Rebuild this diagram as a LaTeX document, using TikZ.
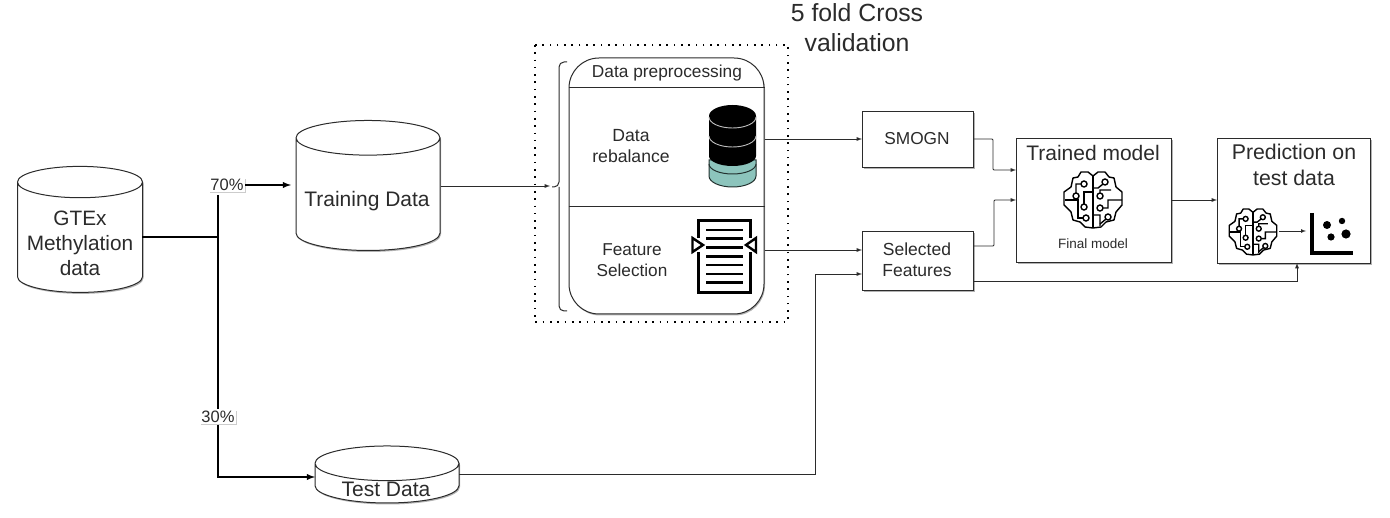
\documentclass[tikz,border=0pt]{standalone}
\usepackage{fontspec}
\setmainfont{Liberation Sans}
\usetikzlibrary{shapes.geometric,shadows}

\definecolor{inkcol}{HTML}{2B2B2B}
\definecolor{tealcol}{HTML}{8CC4BC}

\tikzset{
    softshadow/.style={drop shadow={shadow xshift=1pt,shadow yshift=-1.5pt,opacity=.3,fill=black}},
    databox/.style={draw=inkcol,line width=1pt,fill=white,shape=cylinder,shape border rotate=90,aspect=#1,softshadow},
    stepbox/.style={draw=inkcol,line width=1pt,fill=white,rectangle,anchor=north west,softshadow},
    txt/.style 2 args={align=center,text=inkcol,inner sep=0pt,font=\fontsize{#1}{#2}\selectfont},
    thin link/.style={draw=inkcol,line width=.9pt,-latex},
    thick link/.style={draw=black,line width=1.8pt},
    pct/.style={fill=white,text=inkcol,inner sep=1.5pt,font=\fontsize{16.5}{18}\selectfont,drop shadow={shadow xshift=1pt,shadow yshift=-1pt,opacity=.2,fill=black}},
    circuit/.style={line width=1.4pt,draw=black},
    brainicon/.pic={
        \draw[circuit,line join=round] (0,-24) -- (-5,-28) -- (-12,-28) -- (-15,-23) -- (-20,-22) -- (-22,-13) -- (-29,-8) -- (-29,5)
            -- (-22,12) -- (-20,20) -- (-13,22) -- (-8,27) -- (0,28) -- (8,27) -- (13,22) -- (21,20) -- (23,12) -- (29,5) -- (29,-8)
            -- (23,-13) -- (21,-22) -- (16,-23) -- (12,-28) -- (5,-28) -- cycle;
        \draw[circuit] (0,-24) -- (0,28);
        \draw[circuit] (-9,-16) circle (3) (-12,-16) -- (-17,-16) -- (-17,-7);
        \draw[circuit] (-17,-4) circle (3);
        \draw[circuit] (0,-8) -- (-9,-8) -- (-9,4);
        \draw[circuit] (-9,7) circle (3);
        \draw[circuit] (-28,0) -- (-15,0) -- (-15,18) -- (-10,18);
        \draw[circuit] (-7,18) circle (3);
        \draw[circuit] (12,-18) circle (3) (10,-16) -- (5,-12) -- (0,-12);
        \draw[circuit] (7,-4) circle (3) (7,-7) -- (7,-10) -- (18,-10);
        \draw[circuit] (7,8) circle (3) (10,8) -- (15,8) -- (15,0) -- (29,0);
        \draw[circuit] (15,17) circle (3) (0,15) -- (7,15) -- (7,26);
        \draw[circuit] (13,19) -- (7,24);
    },
}

\begin{document}
\begin{tikzpicture}[x=1pt,y=-1pt]
    \useasboundingbox (0,0) rectangle (1390,518);

    % data stores
    \node[databox=4.7,minimum width=125,minimum height=126] (gtex) at (80,240) {};
    \node[txt={20.8}{25}] (gtextxt) at (80,243) {GTEx\\Methylation\\data};
    \node[databox=5.2,minimum width=144,minimum height=130] (train) at (368,197) {};
    \node[txt={21}{25}] (traintxt) at (367,201) {Training Data};
    \node[databox=5.2,minimum width=144,minimum height=57] (test) at (387,486) {};
    \node[txt={21}{25}] (testtxt) at (386,489) {Test Data};

    % split
    \coordinate (gtexout) at (142,237);
    \coordinate (junction) at (218,237);
    \node[pct] (pct70) at (227,185) {70\%};
    \node[pct] (pct30) at (218,417) {30\%};
    \coordinate (trainin) at (291,185);
    \coordinate (testin) at (315,477);
    \draw[thick link] (gtexout) -- (junction);
    \draw[thick link] (218,195) -- (pct30);
    \draw[thick link,-latex] (pct30) |- (testin);
    \draw[thick link,-latex] (pct70) -- (trainin);

    % cross validation block
    \node[txt={24.8}{30}] (cvtxt) at (857,28) {5 fold Cross\\validation};
    \draw[line width=1.6pt,black,dash pattern=on 1.6pt off 5.7pt] (535,45) rectangle (788,322);
    \draw[inkcol,line width=1pt,rounded corners=5] (567,62) -- (559,62) -- (559,187) -- (552,187);
    \draw[inkcol,line width=1pt,rounded corners=5] (567,311) -- (559,311) -- (559,187);
    \coordinate (bracetip) at (550,186);
    \draw[thin link] (train.east |- bracetip) -- (bracetip);

    \node[draw=inkcol,line width=1pt,fill=white,rectangle,rounded corners=30,minimum width=195,minimum height=256,softshadow] (prep) at (666.5,186) {};
    \draw[inkcol,line width=.9pt] (prep.west |- 0,87) -- (prep.east |- 0,87);
    \draw[inkcol,line width=.9pt] (prep.west |- 0,206) -- (prep.east |- 0,206);
    \node[txt={17.3}{20}] (preptxt) at (667,73) {Data preprocessing};
    \node[txt={17.6}{21}] (rebaltxt) at (631,146) {Data\\rebalance};
    \node[txt={17.2}{21}] (feattxt) at (632,260) {Feature\\Selection};

    % database icon
    \fill[tealcol,draw=black!75!tealcol,line width=1pt] (709,160) -- (709,176) arc (180:0:23.5 and 11) -- (756,160) -- cycle;
    \draw[black!75!tealcol,line width=1pt] (709,164) arc (180:0:23.5 and 10);
    \fill[black] (709,116) arc (180:360:23.5 and 11) -- (756,156) arc (0:180:23.5 and 10) -- cycle;
    \draw[white!75!black,line width=.9pt] (709,117) arc (180:0:23.5 and 11);
    \draw[white!75!black,line width=.9pt] (709,136) arc (180:0:23.5 and 11);

    % feature list icon
    \draw[black,line width=3pt] (698,238) -- (698,220.5) -- (750,220.5) -- (750,238);
    \draw[black,line width=3pt] (698,252) -- (698,293) -- (750,293) -- (750,252);
    \foreach \ypos in {0,...,6}
        \draw[black,line width=2.6pt] (706,230+8.8*\ypos) -- (743,230+8.8*\ypos);
    \draw[black,line width=2.4pt,fill=white] (692.5,238) -- (703,245) -- (692.5,252) -- cycle;
    \draw[black,line width=2.4pt,fill=white] (756,238) -- (746,245) -- (756,252) -- cycle;

    % process boxes
    \node[stepbox,minimum width=111,minimum height=56] (smogn) at (862,111) {};
    \node[txt={17.3}{20}] (smogntxt) at (917,139) {SMOGN};
    \node[stepbox,minimum width=111,minimum height=59] (select) at (862,231) {};
    \node[txt={17.5}{21}] (selecttxt) at (917,260) {Selected\\Features};
    \node[stepbox,minimum width=155,minimum height=124] (trained) at (1016,138) {};
    \node[txt={21}{25}] (trainedtxt) at (1093,153) {Trained model};
    \node[txt={13.5}{14}] (finaltxt) at (1093,244) {Final model};
    \pic at (1093,200) {brainicon};
    \node[stepbox,minimum width=153,minimum height=125] (predict) at (1217,138) {};
    \node[txt={21.3}{26}] (predicttxt) at (1294,165) {Prediction on\\test data};
    \pic[scale=.82] at (1253,232) {brainicon};

    % scatter icon
    \draw[black,line width=3.6pt] (1312,213) -- (1312,253) -- (1353,253);
    \fill[black] (1327,225) circle (4) (1342,221) circle (3.2) (1346,234) circle (4.6) (1331,237) circle (3.6);
    \coordinate (brainout) at (1279,231);
    \coordinate (scatterin) at (1306,231);
    \draw[thin link,line width=.7pt] (brainout) -- (scatterin);

    % links
    \draw[thin link] (prep.east |- 0,139) -- (smogn.west |- 0,139);
    \draw[thin link] (prep.east |- 0,250) -- (select.west |- 0,250);
    \draw[thin link,rounded corners=1] (smogn.east |- 0,139) -| (993,170) -- (trained.west |- 0,170);
    \draw[thin link,rounded corners=1] (select.east |- 0,246) -| (994,200) -- (trained.west |- 0,200);
    \draw[thin link] (select.east |- 0,281) -| (1297,263);
    \draw[thin link] (trained.east |- 0,200) -- (predict.west |- 0,200);
    \draw[thin link] (test.east |- 0,474) -| (815,274) -- (select.west |- 0,274);
\end{tikzpicture}
\end{document}
